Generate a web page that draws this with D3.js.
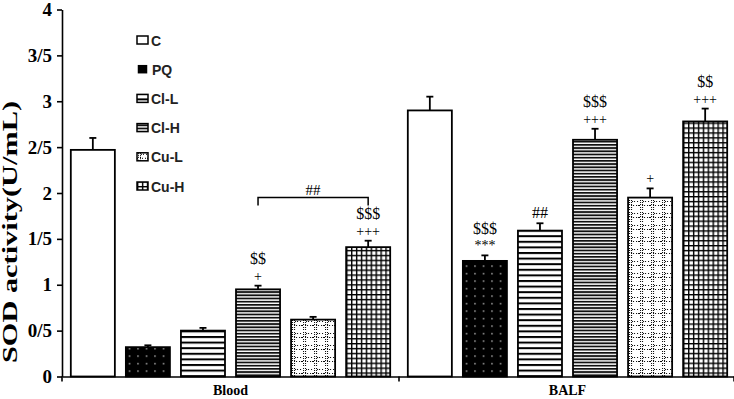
<!DOCTYPE html>
<html>
<head>
<meta charset="utf-8">
<script src="https://cdn.jsdelivr.net/npm/d3@7"></script>
<style>
    body { margin: 0; background: #fff; }
    svg { display: block; }
    .axis text { font-family: "Liberation Serif", "Times New Roman", serif; font-weight: bold; fill: #000; }
    .mark { font-family: "Liberation Serif", "Times New Roman", serif; fill: #000; }
    .legend text { font-family: "Liberation Sans", Arial, sans-serif; font-weight: bold; fill: #222; }
</style>
</head>
<body>
<svg id="chart"></svg>
<script>
// values
var groups = ["Blood", "BALF"];
var series = ["C", "PQ", "Cl-L", "Cl-H", "Cu-L", "Cu-H"];
var bloodValues = [2.47, 0.32, 0.50, 0.95, 0.62, 1.41];
var bloodErrors = [0.13, 0.02, 0.03, 0.04, 0.03, 0.07];
var balfValues = [2.90, 1.26, 1.59, 2.58, 1.95, 2.78];
var balfErrors = [0.15, 0.06, 0.08, 0.12, 0.10, 0.14];
var bloodMarks = [[], [], [], ["+", "$$"], [], ["+++", "$$$"]];
var balfMarks = [[], ["***", "$$$"], ["##"], ["+++", "$$$"], ["+"], ["+++", "$$"]];
var yTicks = [0, 0.5, 1, 1.5, 2, 2.5, 3, 3.5, 4];
var bracket = {group: "Blood", from: "Cl-H", to: "Cu-H", label: "##", value: 1.95};

var W = 734, H = 399;
var m = {l: 62, t: 9.5, b: 376.5, r: 736};

var svg = d3.select("#chart").attr("width", W).attr("height", H);

var data = [];
groups.forEach(function(g, gi) {
    var vals = gi === 0 ? bloodValues : balfValues;
    var errs = gi === 0 ? bloodErrors : balfErrors;
    var marks = gi === 0 ? bloodMarks : balfMarks;
    series.forEach(function(s, i) {
        data.push({group: g, key: s, value: vals[i], err: errs[i], marks: marks[i]});
    });
});

var x0 = d3.scaleBand().domain(groups).range([m.l, m.r]).padding(0);
var x1 = d3.scaleBand().domain(series).range([0, x0.bandwidth()])
    .paddingInner(0.2).paddingOuter(0.16);
var y = d3.scaleLinear().domain([0, 4]).range([m.b, m.t]);

// patterns
var defs = svg.append("defs");
function pat(id, w, h) {
    return defs.append("pattern").attr("id", id)
        .attr("patternUnits", "userSpaceOnUse")
        .attr("width", w).attr("height", h);
}
function dotted(p, x1, y1, x2, y2) {
    p.append("line").attr("x1", x1).attr("y1", y1).attr("x2", x2).attr("y2", y2)
        .attr("stroke", "#000").attr("stroke-width", 1).attr("stroke-dasharray", "1,1.5")
        .attr("shape-rendering", "crispEdges");
}
var p;
p = pat("p-PQ", 8.5, 7.5);
p.append("rect").attr("width", 8.5).attr("height", 7.5).attr("fill", "#000");
p.append("rect").attr("x", 3).attr("y", 3).attr("width", 1.3).attr("height", 1.3).attr("fill", "#ddd");

p = pat("p-ClL", 6, 5.6);
p.append("rect").attr("width", 6).attr("height", 5.6).attr("fill", "#fff");
p.append("rect").attr("y", 0).attr("width", 6).attr("height", 2).attr("fill", "#000");

p = pat("p-ClH", 6, 3.2);
p.append("rect").attr("width", 6).attr("height", 3.2).attr("fill", "#fff");
p.append("rect").attr("y", 0).attr("width", 6).attr("height", 1.8).attr("fill", "#111");

p = pat("p-CuL", 11, 12);
p.append("rect").attr("width", 11).attr("height", 12).attr("fill", "#fff");
dotted(p, 1.5, 0, 1.5, 12);
dotted(p, 3.5, 0, 3.5, 12);
dotted(p, 0, 1.5, 11, 1.5);
dotted(p, 3.5, 9.5, 11, 9.5);

p = pat("p-CuH", 4.9, 4.9);
p.append("rect").attr("width", 4.9).attr("height", 4.9).attr("fill", "#fff");
p.append("rect").attr("width", 4.9).attr("height", 1.4).attr("fill", "#000");
p.append("rect").attr("width", 1.4).attr("height", 4.9).attr("fill", "#000");

var fills = {"C": "#fff", "PQ": "url(#p-PQ)", "Cl-L": "url(#p-ClL)", "Cl-H": "url(#p-ClH)",
    "Cu-L": "url(#p-CuL)", "Cu-H": "url(#p-CuH)"};

// bars
var bars = svg.append("g").selectAll("g.bar").data(data).join("g").attr("class", "bar")
    .attr("transform", function(d) { return "translate(" + (x0(d.group) + x1(d.key)) + ",0)"; });

bars.append("line")
    .attr("x1", x1.bandwidth() / 2).attr("x2", x1.bandwidth() / 2)
    .attr("y1", function(d) { return y(d.value); })
    .attr("y2", function(d) { return y(d.value + d.err); })
    .attr("stroke", "#000").attr("stroke-width", 1.8);
bars.append("line")
    .attr("x1", x1.bandwidth() / 2 - 3.5).attr("x2", x1.bandwidth() / 2 + 3.5)
    .attr("y1", function(d) { return y(d.value + d.err); })
    .attr("y2", function(d) { return y(d.value + d.err); })
    .attr("stroke", "#000").attr("stroke-width", 1.8);

bars.append("rect")
    .attr("x", 0).attr("width", x1.bandwidth())
    .attr("y", function(d) { return y(d.value); })
    .attr("height", function(d) { return y(0) - y(d.value); })
    .attr("fill", function(d) { return fills[d.key]; })
    .attr("stroke", "#000").attr("stroke-width", 1.8);

// significance marks
bars.each(function(d) {
    var g = d3.select(this);
    var top = y(d.value + d.err);
    d.marks.forEach(function(t, i) {
        g.append("text").attr("class", "mark")
            .attr("x", x1.bandwidth() / 2)
            .attr("y", top - 5 - i * 16.5)
            .attr("text-anchor", "middle")
            .style("font-size", i === 0 && t !== "##" ? "14px" : "16px")
            .text(t);
    });
});

// bracket
var bx1 = x0(bracket.group) + x1(bracket.from) + x1.bandwidth() / 2;
var bx2 = x0(bracket.group) + x1(bracket.to) + x1.bandwidth() / 2;
var by = y(bracket.value);
svg.append("path")
    .attr("d", "M" + bx1 + "," + (by + 8) + "V" + by + "H" + bx2 + "V" + (by + 8))
    .attr("fill", "none").attr("stroke", "#000").attr("stroke-width", 1.5);
svg.append("text").attr("class", "mark")
    .attr("x", (bx1 + bx2) / 2).attr("y", by - 3)
    .attr("text-anchor", "middle").style("font-size", "15px")
    .text(bracket.label);

// y axis
var yAxis = svg.append("g").attr("class", "axis")
    .attr("transform", "translate(" + m.l + ",0)")
    .call(d3.axisLeft(y).tickValues(yTicks).tickSize(5).tickSizeOuter(0).tickPadding(5)
        .tickFormat(function(d) { return String(d).replace(".", "/"); }));
yAxis.selectAll("text").style("font-size", "19px");
yAxis.selectAll("path, line").attr("stroke", "#000").attr("stroke-width", 1.6);
yAxis.append("line").attr("x1", 0).attr("x2", 0).attr("y1", m.b).attr("y2", m.b + 5)
    .attr("stroke", "#000").attr("stroke-width", 1.6);

// x axis
var xAxis = svg.append("g").attr("class", "axis")
    .attr("transform", "translate(0," + m.b + ")")
    .call(d3.axisBottom(x0).tickSize(0).tickPadding(9).tickSizeOuter(0));
xAxis.selectAll("text").style("font-size", "14px");
xAxis.select("path").attr("stroke", "#000").attr("stroke-width", 1.6);
xAxis.selectAll("line.sep").data(groups.slice(1).concat(["end"])).join("line").attr("class", "sep")
    .attr("x1", function(d) { return d === "end" ? m.r - 2 : x0(d); })
    .attr("x2", function(d) { return d === "end" ? m.r - 2 : x0(d); })
    .attr("y1", 0).attr("y2", 5)
    .attr("stroke", "#000").attr("stroke-width", 1.6);

// y title (stretched along its length like the source figure)
svg.append("text").attr("class", "axis")
    .attr("transform", "translate(17,232) rotate(-90)")
    .attr("text-anchor", "middle")
    .attr("textLength", 262).attr("lengthAdjust", "spacingAndGlyphs")
    .style("font-family", "'Liberation Serif', 'Times New Roman', serif")
    .style("font-weight", "bold").style("font-size", "20px")
    .text("SOD activity(U/mL)");

// legend
var lg = svg.append("g").attr("class", "legend").attr("transform", "translate(137,40)");
var row = lg.selectAll("g").data(series).join("g")
    .attr("transform", function(d, i) { return "translate(0," + (i * 29.2) + ")"; });
row.append("rect")
    .attr("x", function(d) { return d === "PQ" ? 1.5 : 0; })
    .attr("y", function(d) { return d === "PQ" ? -3.5 : -4; })
    .attr("width", function(d) { return d === "PQ" ? 8 : 11; })
    .attr("height", function(d) { return d === "PQ" ? 7 : 8; })
    .attr("fill", function(d) { return d === "PQ" ? "#000" : fills[d]; })
    .attr("stroke", "#000").attr("stroke-width", 1.5);
row.append("text")
    .attr("x", function(d) { return d === "PQ" ? 15 : 14; })
    .attr("y", 5.5)
    .style("font-size", "14px")
    .text(function(d) { return d; });
</script>
</body>
</html>
